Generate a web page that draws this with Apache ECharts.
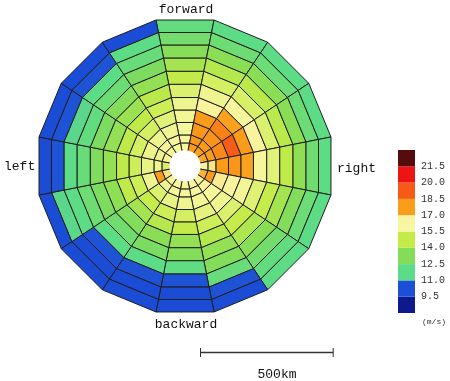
<!DOCTYPE html>
<html><head><meta charset="utf-8">
<script src="https://cdn.jsdelivr.net/npm/echarts@6/dist/echarts.min.js"></script>
<style>html,body{margin:0;padding:0;background:#fff}#c{width:450px;height:381px}</style>
</head><body><div id="c"></div><script>
// sector centres, clockwise from "forward" (degrees)
const sectorAngles = [0, 22.5, 45, 67.5, 90, 112.5, 135, 157.5, 180, 202.5, 225, 247.5, 270, 292.5, 315, 337.5];
// ring edges (km, distance of each polygon edge from the centre)
const ringEdgesKm = [50, 87, 117, 164, 211, 258, 308, 357, 407, 456, 503, 550];
const holeRadiusKm = 59;
// wind speed (m/s) per sector, ring 0 (inner) -> ring 10 (outer)
const s0  = [16.2, 16.2, 16.2, 16.1, 16.0, 15.4, 14.7, 14.0, 13.3, 12.6, 12.0];
const s1  = [17.8, 17.9, 17.9, 17.8, 16.3, 16.0, 15.2, 14.4, 13.4, 12.4, 11.8];
const s2  = [17.7, 17.8, 18.0, 18.4, 17.7, 16.2, 15.3, 14.5, 13.4, 12.3, 11.8];
const s3  = [17.6, 17.8, 18.2, 19.2, 17.8, 16.3, 15.4, 14.5, 13.4, 12.3, 11.8];
const s4  = [16.3, 16.5, 17.8, 17.9, 17.7, 16.2, 15.6, 14.6, 13.5, 12.5, 11.8];
const s5  = [17.4, 17.8, 16.4, 16.3, 16.1, 15.5, 14.8, 14.0, 13.2, 12.3, 11.8];
const s6  = [16.3, 16.3, 16.2, 16.0, 15.4, 14.8, 14.2, 13.4, 12.6, 12.0, 11.8];
const s7  = [16.3, 16.2, 16.1, 15.7, 15.0, 14.4, 13.6, 13.2, 12.2, 10.3, 10.2];
const s8  = [16.3, 16.2, 16.0, 15.2, 14.7, 13.6, 13.2, 11.9, 10.3, 10.2, 10.2];
const s9  = [16.2, 16.1, 15.8, 15.0, 14.4, 13.4, 12.9, 11.8, 10.3, 10.2, 10.2];
const s10 = [16.2, 16.0, 15.4, 14.8, 14.0, 13.2, 12.5, 11.8, 10.3, 10.2, 10.2];
const s11 = [16.6, 17.8, 16.0, 15.0, 14.6, 13.5, 13.0, 12.4, 11.8, 11.7, 10.2];
const s12 = [15.3, 16.0, 15.8, 15.0, 14.6, 13.6, 13.1, 12.2, 11.8, 10.3, 10.2];
const s13 = [16.1, 16.0, 15.9, 15.2, 14.6, 13.6, 13.0, 12.0, 11.7, 10.3, 10.2];
const s14 = [16.2, 16.1, 15.9, 15.2, 14.6, 13.8, 13.2, 12.4, 11.8, 10.3, 10.2];
const s15 = [16.2, 16.2, 16.0, 15.6, 15.0, 14.5, 13.6, 13.0, 12.2, 11.8, 10.2];
const speedBySector = [s0, s1, s2, s3, s4, s5, s6, s7, s8, s9, s10, s11, s12, s13, s14, s15];
// colour scale
const legendLabels = ['9.5', '11.0', '12.5', '14.0', '15.5', '17.0', '18.5', '20.0', '21.5'];
const legendColors = ['#0c1a8c', '#1c4ed8', '#5cdc88', '#84dc58', '#c4ec48', '#f8f6a0', '#fa9e1a', '#f65a16', '#ee1414', '#560c0c'];
const directionLabels = ['forward', 'right', 'backward', 'left'];
const scaleKm = 500;

const FONT = 'Liberation Mono';
const cosH = Math.cos(Math.PI / 16);
const RMAX = 561;
const RPX = 148.9;

const cells = [];
speedBySector.forEach((arr, si) => arr.forEach((v, ri) => cells.push([si, ri, v])));

const chart = echarts.init(document.getElementById('c'), null, {renderer: 'canvas'});
const scaleLen = scaleKm * RPX / RMAX;

chart.setOption({
  animation: false,
  backgroundColor: '#fff',
  polar: {center: [185, 166], radius: RPX},
  angleAxis: {type: 'value', min: 0, max: 360, startAngle: 90, clockwise: true, show: false},
  radiusAxis: {type: 'value', min: 0, max: RMAX, show: false},
  grid: {left: 398, top: 150, width: 17, height: 163},
  xAxis: {type: 'value', min: 0, max: 1, show: false},
  yAxis: {
    type: 'value', min: 0, max: 10, interval: 1, position: 'right',
    axisLine: {show: false}, axisTick: {show: false}, splitLine: {show: false},
    axisLabel: {
      margin: 6, fontFamily: FONT, fontSize: 10, color: '#333', padding: [4, 0, 0, 0],
      formatter: v => legendLabels[v - 1] || ''
    }
  },
  visualMap: {
    type: 'continuous', show: false, seriesIndex: 0, dimension: 2,
    min: 8.75, max: 22.25, inRange: {color: legendColors}
  },
  series: [
    {
      type: 'custom', coordinateSystem: 'polar', data: cells,
      renderItem: (params, api) => {
        const si = api.value(0), ri = api.value(1);
        const a = sectorAngles[si], h = 11.25;
        const a0 = (a - h + 360) % 360, a1 = a + h;
        const r0 = ringEdgesKm[ri] / cosH, r1 = ringEdgesKm[ri + 1] / cosH;
        return {
          type: 'polygon',
          shape: {points: [api.coord([r0, a0]), api.coord([r1, a0]), api.coord([r1, a1]), api.coord([r0, a1])]},
          style: {fill: api.visual('color'), stroke: '#1e1e1e', lineWidth: 1}
        };
      }
    },
    {
      type: 'custom', coordinateSystem: 'polar', data: [[0, 0]],
      renderItem: (params, api) => {
        const c = api.coord([0, 0]);
        const e = api.coord([holeRadiusKm, 90]);
        const r = Math.hypot(e[0] - c[0], e[1] - c[1]);
        return {type: 'circle', shape: {cx: c[0], cy: c[1], r: r}, style: {fill: '#fff'}};
      }
    },
    {
      type: 'custom', coordinateSystem: 'cartesian2d', xAxisIndex: 0, yAxisIndex: 0,
      data: legendColors.map((c, i) => [0, i]),
      renderItem: (params, api) => {
        const i = api.value(1);
        const p0 = api.coord([0, i + 1]), p1 = api.coord([1, i]);
        return {type: 'rect', shape: {x: p0[0], y: p0[1], width: p1[0] - p0[0], height: p1[1] - p0[1]},
          style: {fill: legendColors[i]}};
      }
    }
  ],
  graphic: [
    {type: 'text', left: 'center', x: 0, style: {text: directionLabels[0], x: 186, y: 10, align: 'center', verticalAlign: 'middle', font: '13px ' + FONT, fill: '#111'}, left: null},
    {type: 'text', style: {text: directionLabels[1], x: 337, y: 169, align: 'left', verticalAlign: 'middle', font: '13px ' + FONT, fill: '#111'}},
    {type: 'text', style: {text: directionLabels[2], x: 186, y: 325, align: 'center', verticalAlign: 'middle', font: '13px ' + FONT, fill: '#111'}},
    {type: 'text', style: {text: directionLabels[3], x: 4, y: 167, align: 'left', verticalAlign: 'middle', font: '13px ' + FONT, fill: '#111'}},
    {type: 'text', style: {text: '(m/s)', x: 422, y: 322, align: 'left', verticalAlign: 'middle', font: '8px ' + FONT, fill: '#333'}},
    {type: 'line', shape: {x1: 200.5, y1: 352.5, x2: 200.5 + scaleLen, y2: 352.5}, style: {stroke: '#333', lineWidth: 1.5}},
    {type: 'line', shape: {x1: 200.5, y1: 348, x2: 200.5, y2: 357}, style: {stroke: '#333', lineWidth: 1}},
    {type: 'line', shape: {x1: 200.5 + scaleLen, y1: 348, x2: 200.5 + scaleLen, y2: 357}, style: {stroke: '#333', lineWidth: 1}},
    {type: 'text', style: {text: scaleKm + 'km', x: 277, y: 375, align: 'center', verticalAlign: 'middle', font: '13px ' + FONT, fill: '#111'}}
  ]
});
</script></body></html>
